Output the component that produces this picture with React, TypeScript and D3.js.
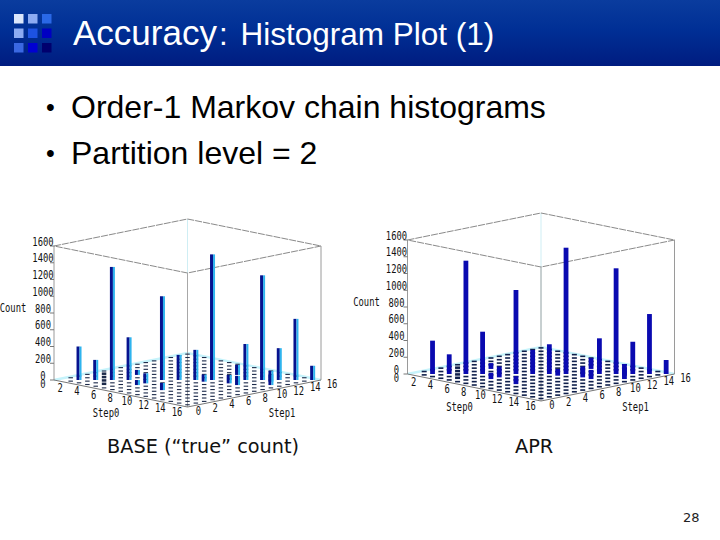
import React from "react";
import * as d3 from "d3";

const yTicks = [0, 200, 400, 600, 800, 1000, 1200, 1400, 1600];
const step0Ticks = [2, 4, 6, 8, 10, 12, 14, 16];
const step1Ticks = [0, 2, 4, 6, 8, 10, 12, 14, 16];

const baseCounts = [
  [0, 6, 5, 6, 8, 7, 6, 5, 8, 6, 7, 5, 6, 5, 6, 5],
  [7, 400, 6, 8, 30, 6, 7, 5, 6, 8, 5, 6, 7, 5, 6, 6],
  [5, 8, 240, 30, 7, 6, 5, 8, 6, 5, 7, 6, 5, 8, 6, 5],
  [6, 7, 30, 1350, 6, 8, 60, 5, 7, 6, 8, 5, 6, 7, 5, 6],
  [8, 30, 6, 7, 510, 6, 5, 8, 6, 7, 5, 6, 8, 5, 7, 6],
  [6, 5, 8, 6, 7, 8, 6, 5, 7, 8, 6, 5, 6, 7, 8, 5],
  [5, 7, 6, 60, 120, 6, 1000, 8, 5, 6, 7, 8, 5, 6, 7, 6],
  [7, 6, 5, 8, 6, 7, 5, 300, 6, 8, 5, 7, 6, 5, 8, 6],
  [6, 8, 7, 5, 6, 8, 6, 7, 360, 5, 6, 8, 7, 6, 5, 7],
  [5, 6, 8, 85, 7, 5, 6, 8, 85, 1500, 7, 30, 120, 8, 6, 5],
  [7, 5, 6, 8, 5, 7, 6, 5, 8, 6, 30, 5, 7, 6, 8, 6],
  [6, 7, 5, 6, 8, 6, 7, 8, 5, 100, 6, 430, 5, 8, 6, 7],
  [8, 6, 7, 5, 6, 7, 5, 6, 8, 110, 5, 7, 1250, 40, 6, 5],
  [5, 6, 8, 7, 5, 6, 8, 5, 6, 7, 8, 6, 40, 380, 7, 6],
  [6, 5, 7, 6, 8, 5, 6, 7, 6, 5, 7, 170, 6, 8, 730, 7],
  [5, 7, 6, 5, 7, 6, 8, 5, 7, 6, 5, 7, 6, 5, 8, 170],
];

const aprCounts = [
  [0, 9, 8, 10, 9, 8, 10, 8, 9, 10, 8, 9, 10, 8, 9, 8],
  [9, 398, 10, 8, 30, 9, 8, 10, 9, 8, 10, 9, 8, 10, 9, 10],
  [8, 10, 235, 30, 9, 10, 8, 9, 10, 8, 9, 10, 9, 8, 10, 9],
  [10, 8, 30, 1353, 8, 9, 70, 8, 10, 9, 8, 10, 8, 9, 10, 8],
  [9, 30, 9, 8, 505, 10, 9, 8, 9, 10, 8, 9, 10, 8, 9, 10],
  [8, 9, 10, 9, 8, 10, 8, 10, 8, 9, 10, 8, 9, 10, 8, 9],
  [10, 8, 9, 75, 130, 8, 1003, 9, 10, 8, 9, 10, 8, 9, 10, 8],
  [9, 10, 8, 9, 10, 9, 8, 287, 8, 10, 9, 8, 10, 9, 8, 10],
  [8, 9, 10, 8, 9, 10, 9, 8, 355, 9, 8, 10, 9, 8, 10, 9],
  [10, 8, 9, 95, 8, 9, 10, 9, 80, 1508, 10, 30, 130, 9, 8, 10],
  [9, 10, 8, 9, 10, 8, 9, 10, 8, 9, 30, 9, 8, 10, 9, 8],
  [8, 9, 10, 8, 9, 10, 8, 9, 10, 130, 9, 426, 10, 8, 9, 10],
  [10, 8, 9, 10, 8, 9, 10, 8, 9, 110, 8, 9, 1262, 50, 8, 9],
  [9, 10, 8, 9, 10, 8, 9, 10, 8, 9, 10, 8, 50, 385, 9, 8],
  [8, 9, 10, 8, 9, 10, 8, 9, 10, 8, 9, 180, 8, 9, 716, 9],
  [9, 8, 9, 10, 8, 9, 10, 8, 9, 10, 8, 9, 10, 8, 9, 167],
];

const logoColors = [
  ["#dbe6fb", "#8cabf2", "#2a68e6"],
  ["#8cabf2", "#1d52e2", "#0000c2"],
  ["#3a68e2", "#0000d2", "#00006e"],
];

const mono = "'DejaVu Sans Mono', monospace";
const sans = "'Liberation Sans', Arial, sans-serif";

const Narrow = ({ x, y, children }: { x: number; y: number; children: React.ReactNode }) => (
  <text
    transform={`translate(${x},${y}) scale(0.68,1)`}
    fontFamily={mono}
    fontSize={13}
    fill="#111"
    textAnchor="middle"
    dominantBaseline="central"
  >
    {children}
  </text>
);

function Panel({ counts, dx, dy, shaded }: { counts: number[][]; dx: number; dy: number; shaded: boolean }) {
  const x0 = 54;
  const y0 = 380;
  const boxH = 134;
  const sx = d3.scaleLinear().domain([0, 16]).range([0, 133.5]);
  const sy = d3.scaleLinear().domain([0, 16]).range([0, 27]);
  const h = d3.scaleLinear().domain([0, 1600]).range([0, boxH]);
  const fx = (a: number, b: number) => x0 + sx(a) + sx(b);
  const fy = (a: number, b: number) => y0 + sy(a) - sy(b);
  const poly = (pts: [number, number][]) => d3.line()(pts) ?? "";

  const cells = counts
    .flatMap((row, i) => row.map((v, j) => ({ i, j, v })))
    .filter((c) => c.v > 0)
    .sort((a, b) => a.i - a.j - (b.i - b.j));

  const barW = shaded ? 5 : 4.8;
  const dashW = shaded ? 4.5 : 5;
  const left = fx(0, 0);
  const front = fx(16, 0);
  const right = fx(16, 16);

  return (
    <g transform={`translate(${dx},${dy})`}>
      <path d={poly([[left, y0], [fx(0, 8), fy(0, 8)], [fx(0, 16), fy(0, 16)], [right, y0]])} fill="none" stroke="#c6f3fb" strokeWidth={2.4} />
      <line x1={fx(0, 16)} x2={fx(0, 16)} y1={fy(0, 16)} y2={fy(0, 16) - boxH} stroke="#cfeef4" strokeWidth={1} />
      <path d={poly([[left, y0 - boxH], [fx(0, 16), fy(0, 16) - boxH], [right, y0 - boxH], [front, fy(16, 0) - boxH], [left, y0 - boxH]])} fill="none" stroke="#8a8a8a" strokeWidth={1} strokeDasharray="7 1" />
      <line x1={left} x2={left} y1={y0} y2={y0 - boxH} stroke="#9a9a9a" />
      <line x1={front} x2={front} y1={fy(16, 0)} y2={fy(16, 0) - boxH} stroke="#a8a8a8" />
      <line x1={right} x2={right} y1={y0} y2={y0 - boxH} stroke="#9a9a9a" />
      <path d={poly([[left, y0], [front, fy(16, 0)], [right, y0]])} fill="none" stroke="#777" strokeWidth={1} />

      {cells.map(({ i, j, v }) => {
        const cx = fx(i + 0.5, j + 0.5);
        const cy = fy(i + 0.5, j + 0.5);
        const bh = h(v);
        if (bh < 3) {
          const dh = Math.max(shaded ? 1.1 : 1.6, bh);
          return <rect key={`${i}-${j}`} x={cx - dashW / 2} y={cy - dh} width={dashW} height={dh} fill={shaded ? "#1c2a4a" : "#10204c"} />;
        }
        return shaded ? (
          <g key={`${i}-${j}`}>
            <rect x={cx - barW / 2} y={cy - bh} width={3} height={bh} fill="#06128e" />
            <rect x={cx - barW / 2 + 3} y={cy - bh} width={barW - 3} height={bh} fill="#2fb4ee" />
          </g>
        ) : (
          <rect key={`${i}-${j}`} x={cx - barW / 2} y={cy - bh} width={barW} height={bh} fill="#0a0ab0" />
        );
      })}

      {yTicks.map((t) => (
        <g key={t}>
          <line x1={left - 4} x2={left} y1={y0 - h(t)} y2={y0 - h(t)} stroke="#777" />
          <Narrow x={left - 11} y={y0 - h(t) - 4.5}>{t}</Narrow>
        </g>
      ))}
      <Narrow x={left - 11} y={y0 + 3.5}>0</Narrow>
      {step0Ticks.map((t) => (
        <Narrow key={t} x={fx(t, 0) - 10.5} y={fy(t, 0) + 4.5}>{t}</Narrow>
      ))}
      {step1Ticks.map((t) => (
        <Narrow key={t} x={fx(16, t) + 11} y={fy(16, t) + 4}>{t}</Narrow>
      ))}
      <Narrow x={13} y={308}>Count</Narrow>
      <Narrow x={106} y={413}>Step0</Narrow>
      <Narrow x={282} y={413}>Step1</Narrow>
    </g>
  );
}

export default function App() {
  return (
    <svg width={720} height={540} viewBox="0 0 720 540" style={{ position: "absolute", left: 0, top: 0, display: "block", background: "#fff" }}>
      <defs>
        <linearGradient id="hdr" x1="0" y1="0" x2="0" y2="1">
          <stop offset="0" stopColor="#0a3c9e" />
          <stop offset="0.45" stopColor="#002f95" />
          <stop offset="1" stopColor="#001c80" />
        </linearGradient>
      </defs>
      <rect x={0} y={0} width={720} height={66} fill="url(#hdr)" />
      {logoColors.map((row, r) =>
        row.map((c, k) => <rect key={`${r}-${k}`} x={14 + k * 14} y={14 + r * 14.5} width={9.5} height={9.5} fill={c} />)
      )}
      <text x={73} y={45} fill="#fff" fontFamily={sans} fontSize={35}>
        Accuracy<tspan fontSize={31.5} dx={2}>:</tspan><tspan fontSize={31.5} dx={4}> Histogram Plot (1)</tspan>
      </text>
      <g fontFamily={sans} fontSize={32} fill="#000">
        <text x={46} y={116} fontSize={25}>•</text>
        <text x={71} y={118}>Order-1 Markov chain histograms</text>
        <text x={46} y={162} fontSize={25}>•</text>
        <text x={71} y={164}>Partition level = 2</text>
      </g>
      <Panel counts={baseCounts} dx={0} dy={0} shaded={true} />
      <Panel counts={aprCounts} dx={353.5} dy={-6} shaded={false} />
      <g fontFamily="'DejaVu Sans', sans-serif" fontSize={19.3} fill="#111">
        <text x={107} y={453}>BASE (“true” count)</text>
        <text x={515} y={453}>APR</text>
      </g>
      <text x={683} y={522} fontFamily="'DejaVu Sans', sans-serif" fontSize={13} fill="#222">28</text>
    </svg>
  );
}
